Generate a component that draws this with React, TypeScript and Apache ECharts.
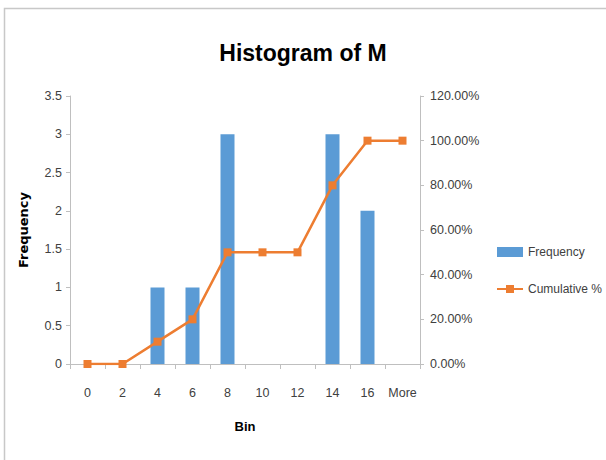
import React, { useEffect, useRef } from "react";
import * as echarts from "echarts";

const bins = ["0", "2", "4", "6", "8", "10", "12", "14", "16", "More"];
const frequency = [0, 0, 1, 1, 3, 0, 0, 3, 2, 0];
const cumulative = [0, 0, 0.1, 0.2, 0.5, 0.5, 0.5, 0.8, 1.0, 1.0];

const NARROW = "'Liberation Sans Narrow', 'Liberation Sans', Arial, sans-serif";

export default function App() {
  const ref = useRef<HTMLDivElement>(null);
  useEffect(() => {
    if (!ref.current) return;
    const chart = echarts.init(ref.current, undefined, { renderer: "svg" });
    chart.setOption({
      animation: false,
      backgroundColor: "#ffffff",
      title: {
        text: "Histogram of M",
        left: "center",
        top: 36,
        textStyle: { fontFamily: NARROW, fontSize: 23, fontWeight: "bold", color: "#000000" },
      },
      graphic: [
        {
          type: "rect",
          shape: { x: 4.5, y: 8.5, width: 700, height: 600 },
          style: { fill: "none", stroke: "#c8c8c8", lineWidth: 1.5 },
          silent: true,
        },
      ],
      legend: {
        orient: "vertical",
        left: 491,
        top: 241,
        itemGap: 25,
        itemWidth: 26,
        itemHeight: 10,
        textStyle: { fontFamily: NARROW, fontSize: 12, color: "#404040" },
        data: [
          { name: "Frequency", icon: "rect" },
          { name: "Cumulative %" },
        ],
      },
      grid: { left: 70, right: 186, top: 96, bottom: 96, containLabel: false },
      xAxis: {
        type: "category",
        data: bins,
        boundaryGap: true,
        name: "Bin",
        nameLocation: "middle",
        nameGap: 56,
        nameTextStyle: { fontFamily: NARROW, fontSize: 13, fontWeight: "bold", color: "#000" },
        axisLine: { lineStyle: { color: "#bfbfbf" } },
        axisTick: { show: true, length: 5, lineStyle: { color: "#bfbfbf" } },
        axisLabel: { fontFamily: NARROW, fontSize: 12.5, color: "#404040", margin: 22, interval: 0 },
      },
      yAxis: [
        {
          type: "value",
          min: 0,
          max: 3.5,
          interval: 0.5,
          name: "Frequency",
          nameLocation: "middle",
          nameGap: 40,
          nameRotate: 90,
          nameTextStyle: { fontFamily: "'DejaVu Sans', Verdana, sans-serif", fontSize: 13, fontWeight: "bold", color: "#000" },
          axisLine: { show: true, lineStyle: { color: "#bfbfbf" } },
          axisTick: { show: true, length: 4, lineStyle: { color: "#bfbfbf" } },
          splitLine: { show: false },
          axisLabel: { fontFamily: NARROW, fontSize: 12.5, color: "#404040", margin: 8 },
        },
        {
          type: "value",
          min: 0,
          max: 1.2,
          interval: 0.2,
          position: "right",
          axisLine: { show: true, lineStyle: { color: "#bfbfbf" } },
          axisTick: { show: true, length: 4, lineStyle: { color: "#bfbfbf" } },
          splitLine: { show: false },
          axisLabel: {
            fontFamily: NARROW,
            fontSize: 12.5,
            color: "#404040",
            margin: 10,
            formatter: (v: number) => (v * 100).toFixed(2) + "%",
          },
        },
      ],
      series: [
        {
          name: "Frequency",
          type: "bar",
          data: frequency,
          barWidth: "40%",
          itemStyle: { color: "#5B9BD5" },
          yAxisIndex: 0,
        },
        {
          name: "Cumulative %",
          type: "line",
          data: cumulative,
          yAxisIndex: 1,
          symbol: "rect",
          symbolSize: 8,
          lineStyle: { color: "#ED7D31", width: 2.5 },
          itemStyle: { color: "#ED7D31" },
        },
      ],
    });
    return () => chart.dispose();
  }, []);
  return <div ref={ref} style={{ position: "fixed", left: 0, top: 0, width: 606, height: 460 }} />;
}
